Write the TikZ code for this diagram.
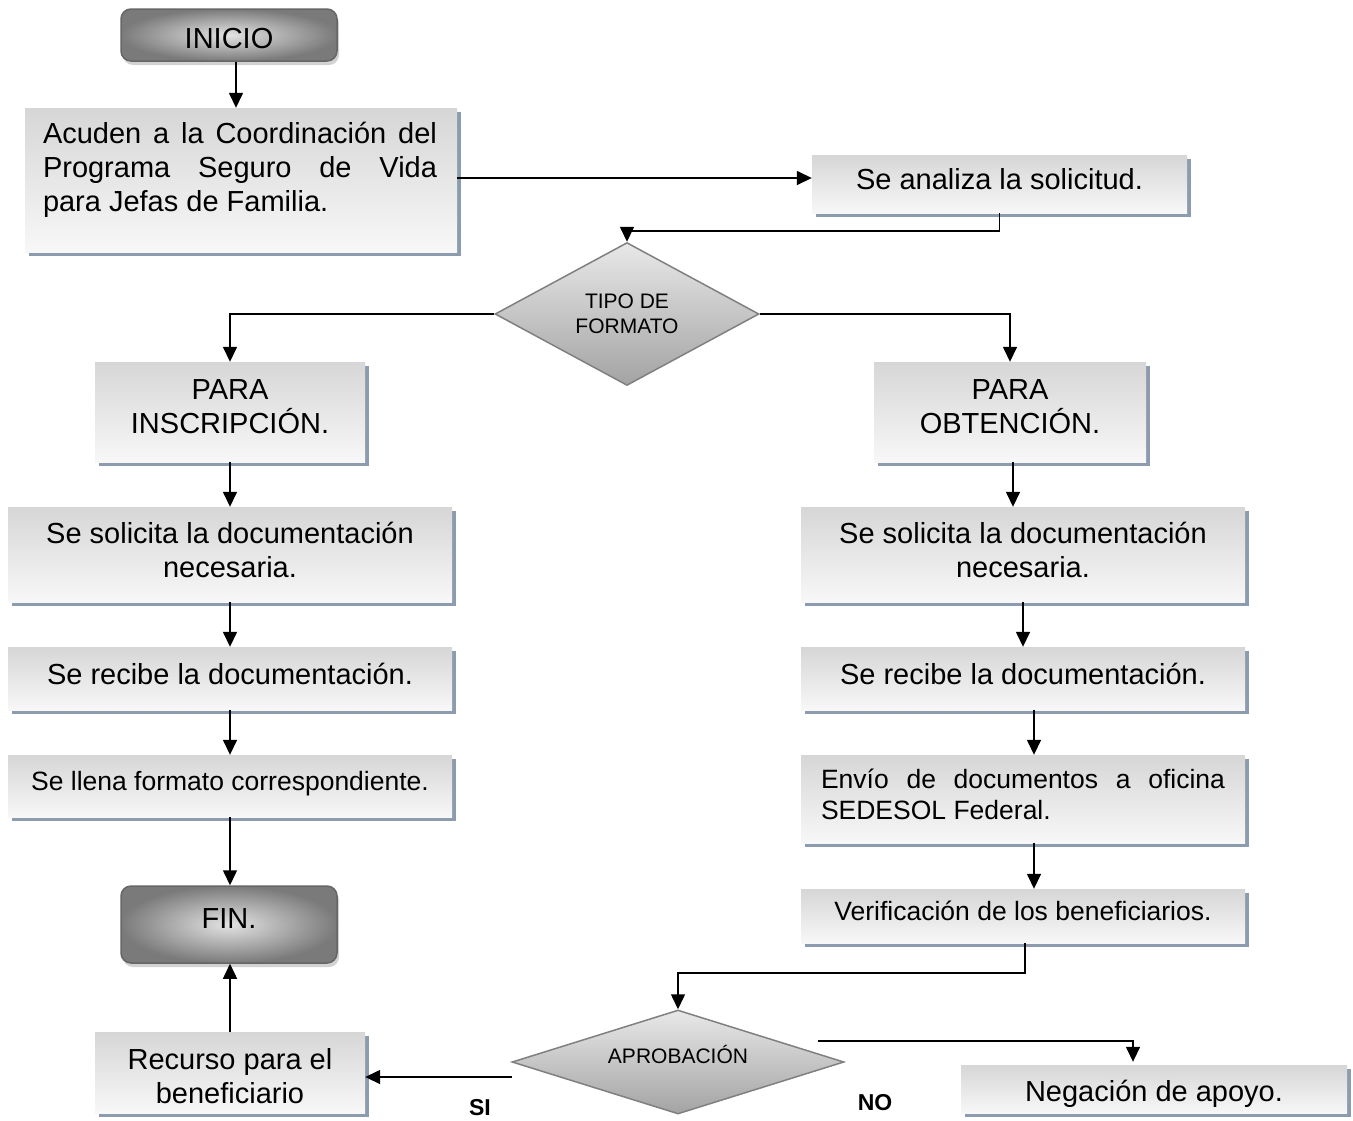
\documentclass[tikz,border=0pt]{standalone}
\usepackage{fontspec}
\setmainfont{Liberation Sans}
\usetikzlibrary{arrows.meta,shapes.geometric,shadows,calc}
\definecolor{shadowc}{HTML}{8D9BAF}
\newcommand\mainfs{\fontsize{29}{34}\selectfont}
\newcommand\smallfs{\fontsize{26.5}{31}\selectfont}
\newcommand\dfs{\fontsize{21}{25}\selectfont}
\newcommand\lblfs{\fontsize{23}{27}\selectfont\bfseries}
\newcommand\jline[2]{\hbox to #1{\spaceskip=0.278em plus 1fil\relax #2}}
\tikzset{
  arr/.style={line width=1.5pt, -{Triangle[length=15pt,width=14pt]}},
  procbox/.style={rectangle, inner sep=0pt, draw=none,
    top color=gray!32, bottom color=gray!6,
    general shadow={fill=shadowc, shadow xshift=4pt, shadow yshift=-4pt},
    font=\mainfs, align=center, text depth=10pt},
  termbox/.style={rectangle, rounded corners=10pt, inner sep=0pt,
    draw=black!60, line width=1.5pt,
    inner color=gray!22, outer color=black!52,
    drop shadow={shadow xshift=2pt, shadow yshift=-4pt, opacity=0.35},
    font=\mainfs, align=center},
  decbox/.style={diamond, inner sep=0pt, draw=black!50, line width=1.5pt,
    top color=gray!18, bottom color=gray!72, font=\dfs, align=center},
  txt/.style={inner sep=0pt, align=left},
  lbl/.style={inner sep=0pt, font=\lblfs}
}
\begin{document}
\begin{tikzpicture}[x=1pt,y=-1pt]
\useasboundingbox[fill=white] (0,0) rectangle (1353,1120);

% terminals
\node[termbox, minimum width=216pt, minimum height=52pt, text height=26pt, text depth=0pt] (inicio) at (229,35) {INICIO};
\node[termbox, minimum width=216pt, minimum height=77pt, text depth=12pt] (fin) at (229,924.5) {FIN.};

% top boxes
\node[procbox, minimum width=432pt, minimum height=144pt] (b1) at (241,180) {};
\node[txt, font=\mainfs] (b1t) at (240,170) {\jline{394pt}{Acuden a la Coordinación del}\\
  \jline{394pt}{Programa Seguro de Vida}\\ para Jefas de Familia.};
\node[procbox, minimum width=375pt, minimum height=58pt] (b2) at (999.5,184) {Se analiza la solicitud.};

% decision 1
\node[decbox, minimum width=264pt, minimum height=128pt] (d1) at (627,314) {TIPO DE\\FORMATO};

% left column
\node[procbox, minimum width=270pt, minimum height=100pt] (pi) at (230,412) {PARA\\INSCRIPCIÓN.};
\node[procbox, minimum width=444pt, minimum height=95pt] (s1) at (230,554.5) {Se solicita la documentación\\necesaria.};
\node[procbox, minimum width=444pt, minimum height=63pt] (r1) at (230,678.5) {Se recibe la documentación.};
\node[procbox, minimum width=444pt, minimum height=62pt, font=\smallfs] (l1) at (230,786) {Se llena formato correspondiente.};
\node[procbox, minimum width=270pt, minimum height=81pt, text height=62pt, text depth=0pt] (rec) at (230,1072.5) {Recurso para el\\beneficiario};

% right column
\node[procbox, minimum width=272pt, minimum height=100pt] (po) at (1010,412) {PARA\\OBTENCIÓN.};
\node[procbox, minimum width=444pt, minimum height=95pt] (s2) at (1023,554.5) {Se solicita la documentación\\necesaria.};
\node[procbox, minimum width=444pt, minimum height=63pt] (r2) at (1023,678.5) {Se recibe la documentación.};
\node[procbox, minimum width=444pt, minimum height=88pt, font=\smallfs, align=left] (e2) at (1023,799) {\jline{404pt}{Envío de documentos a oficina}\\SEDESOL Federal.};
\node[procbox, minimum width=444pt, minimum height=54pt, font=\smallfs] (v2) at (1023,916) {Verificación de los beneficiarios.};

% decision 2
\node[decbox, minimum width=332pt, minimum height=104pt] (d2) at (678,1062) {};
\node[inner sep=0pt, font=\dfs] (d2t) at (678,1054) {APROBACIÓN};
\node[procbox, minimum width=386pt, minimum height=48pt, text height=31pt, text depth=6pt] (neg) at (1154,1089) {Negación de apoyo.};

% labels
\node[lbl] (si) at (480,1108) {SI};
\node[lbl] (no) at (875,1103) {NO};

% connectors
\draw[arr] ([xshift=7pt]inicio.south) -- ([xshift=7pt]inicio.south |- b1.north);
\draw[arr] ([yshift=2pt]b1.east) -- ([yshift=2pt]b1.east -| b2.west);
\draw[arr] (b2.south) -- ++(0,18) -| (d1.north);
\draw[arr] (d1.west) -| (pi.north);
\draw[arr] (d1.east) -| (po.north);
\draw[arr] (pi.south) -- (pi.south |- s1.north);
\draw[arr] (s1.south) -- (r1.north);
\draw[arr] (r1.south) -- (l1.north);
\draw[arr] (l1.south) -- (l1.south |- fin.north);
\draw[arr] (rec.north) -- (rec.north |- fin.south);
\draw[arr] ([xshift=3pt]po.south) -- ([xshift=3pt]po.south |- s2.north);
\draw[arr] (s2.south) -- (r2.north);
\draw[arr] ([xshift=11pt]r2.south) -- ([xshift=11pt]e2.north);
\draw[arr] ([xshift=11pt]e2.south) -- ([xshift=11pt]v2.north);
\draw[arr] ([xshift=2pt]v2.south) -- ++(0,30) -| (d2.north);
\coordinate (sistart) at (512,1077);
\draw[arr] (sistart) -- (sistart -| rec.east);
\coordinate (nostart) at (818,1041);
\draw[arr] (nostart) -| ([xshift=-21pt,yshift=3pt]neg.north);
\end{tikzpicture}
\end{document}
